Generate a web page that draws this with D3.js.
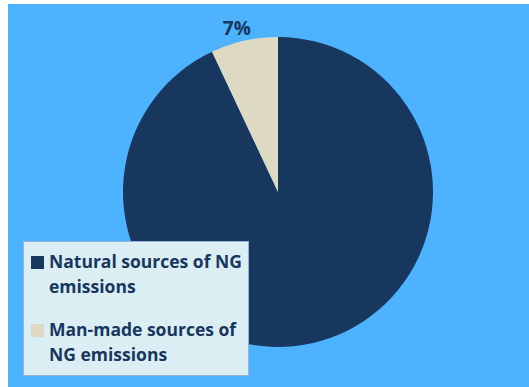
<!DOCTYPE html>
<html>
<head>
<meta charset="utf-8">
<script src="https://cdn.jsdelivr.net/npm/d3@7"></script>
<style>
  body { margin: 0; background: #ffffff; }
  svg { display: block; }
</style>
</head>
<body>
<div class="chart"></div>
<script>
// Chart data
const categories = ["Natural sources of NG emissions", "Man-made sources of NG emissions"];
const legendLines = [["Natural sources of NG", "emissions"], ["Man-made sources of", "NG emissions"]];
const values = [93, 7];
const shownLabels = ["", "7%"];

const width = 529, height = 387;
const colors = d3.scaleOrdinal().domain(categories).range(["#17375e", "#ddd9c3"]);

const svg = d3.select(".chart")
  .append("svg")
  .attr("width", width)
  .attr("height", height);

// Blue chart area
svg.append("rect")
  .attr("x", 8).attr("y", 4)
  .attr("width", width - 8).attr("height", height - 4)
  .attr("fill", "#4db2ff");

const cx = 278, cy = 192, radius = 155;

const pie = d3.pie().sort(null).value(d => d);
const arcs = pie(values);
const arc = d3.arc().innerRadius(0).outerRadius(radius);

const pieGroup = svg.append("g").attr("transform", `translate(${cx},${cy})`);
pieGroup.selectAll("path")
  .data(arcs)
  .enter()
  .append("path")
  .attr("d", arc)
  .attr("fill", (d, i) => colors(categories[i]));

// Percent label outside the small slice
const labelArc = d3.arc().innerRadius(radius + 20).outerRadius(radius + 20);
pieGroup.selectAll("text")
  .data(arcs)
  .enter()
  .append("text")
  .attr("x", d => labelArc.centroid(d)[0] - 3)
  .attr("y", d => labelArc.centroid(d)[1] + 14)
  .attr("text-anchor", "middle")
  .attr("font-family", "Open Sans, sans-serif")
  .attr("font-weight", "bold")
  .attr("font-size", 19)
  .attr("fill", "#17375e")
  .text((d, i) => shownLabels[i]);

// Legend box
const legend = svg.append("g");
legend.append("rect")
  .attr("x", 23.5).attr("y", 241.5)
  .attr("width", 225).attr("height", 134)
  .attr("fill", "#dbeef4")
  .attr("stroke", "#95b3d7")
  .attr("stroke-width", 1);

const items = legend.selectAll("g.item")
  .data(categories)
  .enter()
  .append("g")
  .attr("class", "item")
  .attr("transform", (d, i) => `translate(0,${i * 68})`);

items.append("rect")
  .attr("x", 31).attr("y", 256)
  .attr("width", 13).attr("height", 13)
  .attr("fill", d => colors(d));

items.append("text")
  .attr("font-family", "Open Sans, sans-serif")
  .attr("font-weight", "bold")
  .attr("font-size", 17.5)
  .attr("fill", "#17375e")
  .selectAll("tspan")
  .data((d, i) => legendLines[i])
  .enter()
  .append("tspan")
  .attr("x", 49)
  .attr("y", (d, j) => 268 + j * 25)
  .text(d => d);
</script>
</body>
</html>
